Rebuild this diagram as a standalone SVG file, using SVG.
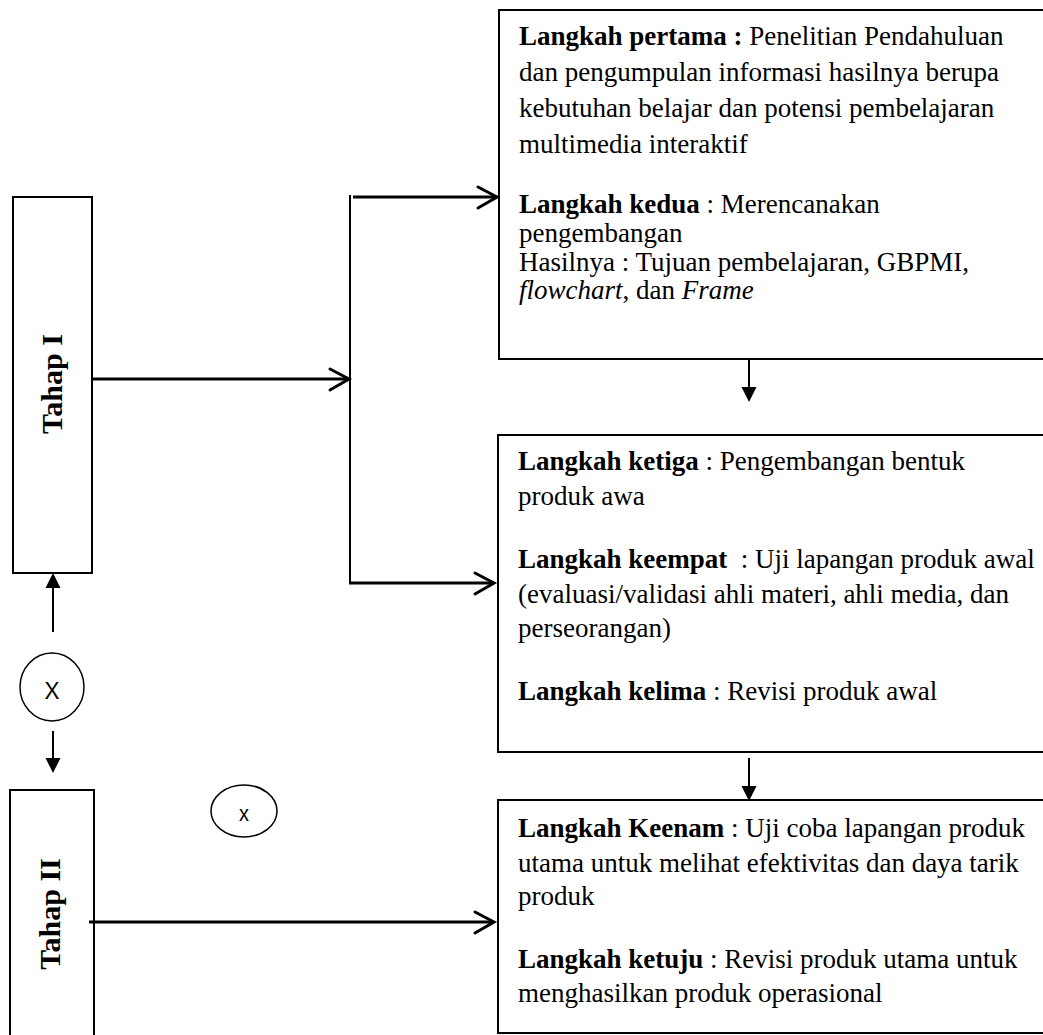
<svg xmlns="http://www.w3.org/2000/svg" width="1043" height="1035" viewBox="0 0 1043 1035">
<style>
  .box{fill:#fff;stroke:#000;stroke-width:2}
  .t{font-family:"Liberation Serif","Times New Roman",serif;font-size:27px;fill:#000}
  .b{font-weight:bold}
  .i{font-style:italic}
  .tahap{font-family:"Liberation Serif","Times New Roman",serif;font-size:30px;font-weight:bold;fill:#000}
  .cx{font-family:"Liberation Sans",Arial,sans-serif;fill:#000}
  .h{stroke:#000;stroke-width:3;fill:none}
  .chev{stroke:#000;stroke-width:3;fill:none;stroke-linecap:round;stroke-linejoin:miter}
  .v{stroke:#000;stroke-width:2;fill:none}
  .tri{fill:#000}
</style>
<rect width="1043" height="1035" fill="#fff"/>

<g id="tahap1">
  <rect class="box" x="13" y="197" width="79" height="376"/>
  <text class="tahap" transform="translate(62,384) rotate(-90)" text-anchor="middle">Tahap I</text>
</g>

<g id="tahap2">
  <rect class="box" x="10" y="790" width="84" height="260"/>
  <text class="tahap" transform="translate(60,914) rotate(-90)" text-anchor="middle">Tahap II</text>
</g>

<g id="circleX">
  <ellipse cx="52" cy="687" rx="32" ry="34" fill="#fff" stroke="#000" stroke-width="1.5"/>
  <text class="cx" x="52" y="699" font-size="24" text-anchor="middle" textLength="15" lengthAdjust="spacingAndGlyphs">X</text>
</g>

<g id="circlex">
  <ellipse cx="244" cy="811" rx="33" ry="26" fill="#fff" stroke="#000" stroke-width="1.5"/>
  <text class="cx" x="244" y="821" font-size="22" text-anchor="middle" textLength="10" lengthAdjust="spacingAndGlyphs">x</text>
</g>

<g id="step1-2">
  <rect class="box" x="499" y="10" width="560" height="349"/>
  <text class="t" x="519" y="45"><tspan class="b">Langkah pertama :</tspan> Penelitian Pendahuluan</text>
  <text class="t" x="519" y="81">dan pengumpulan informasi hasilnya berupa</text>
  <text class="t" x="519" y="117">kebutuhan belajar dan potensi pembelajaran</text>
  <text class="t" x="519" y="153">multimedia interaktif</text>
  <text class="t" x="519" y="213"><tspan class="b">Langkah kedua</tspan> : Merencanakan</text>
  <text class="t" x="519" y="242">pengembangan</text>
  <text class="t" x="519" y="271">Hasilnya : Tujuan pembelajaran, GBPMI,</text>
  <text class="t" x="519" y="299"><tspan class="i">flowchart</tspan>, dan <tspan class="i">Frame</tspan></text>
</g>

<g id="step3-5">
  <rect class="box" x="498" y="435" width="560" height="317"/>
  <text class="t" x="518" y="470"><tspan class="b">Langkah ketiga</tspan> : Pengembangan bentuk</text>
  <text class="t" x="518" y="505">produk awa</text>
  <text class="t" x="518" y="568" xml:space="preserve"><tspan class="b">Langkah keempat</tspan>  : Uji lapangan produk awal</text>
  <text class="t" x="518" y="603">(evaluasi/validasi ahli materi, ahli media, dan</text>
  <text class="t" x="518" y="637">perseorangan)</text>
  <text class="t" x="518" y="700"><tspan class="b">Langkah kelima</tspan> : Revisi produk awal</text>
</g>

<g id="step6-7">
  <rect class="box" x="498" y="800" width="560" height="233"/>
  <text class="t" x="518" y="837"><tspan class="b">Langkah Keenam</tspan> : Uji coba lapangan produk</text>
  <text class="t" x="518" y="872">utama untuk melihat efektivitas dan daya tarik</text>
  <text class="t" x="518" y="905">produk</text>
  <text class="t" x="518" y="968"><tspan class="b">Langkah ketuju</tspan> : Revisi produk utama untuk</text>
  <text class="t" x="518" y="1002">menghasilkan produk operasional</text>
</g>

<g id="connectors">
  <line class="h" x1="92" y1="379" x2="349" y2="379"/>
  <polyline class="chev" points="330,369 349,379 330,390"/>
  <line class="v" x1="350" y1="195" x2="350" y2="584"/>
  <line class="h" x1="353" y1="197" x2="497" y2="197"/>
  <polyline class="chev" points="478,187 497,197 478,208"/>
  <line class="h" x1="349" y1="583" x2="494" y2="583"/>
  <polyline class="chev" points="475,573 494,583 475,594"/>
  <line class="h" x1="89" y1="922" x2="494" y2="922"/>
  <polyline class="chev" points="475,912 494,922 475,933"/>
  <line class="v" x1="749" y1="359" x2="749" y2="390"/>
  <polygon class="tri" points="741.5,387 756.5,387 749,402"/>
  <line class="v" x1="749" y1="758" x2="749" y2="790"/>
  <polygon class="tri" points="741.5,786 756.5,786 749,801"/>
  <line class="v" x1="53" y1="632" x2="53" y2="585"/>
  <polygon class="tri" points="45.5,588 60.5,588 53,573"/>
  <line class="v" x1="53" y1="731" x2="53" y2="762"/>
  <polygon class="tri" points="45.5,758 60.5,758 53,773"/>
</g>
</svg>
